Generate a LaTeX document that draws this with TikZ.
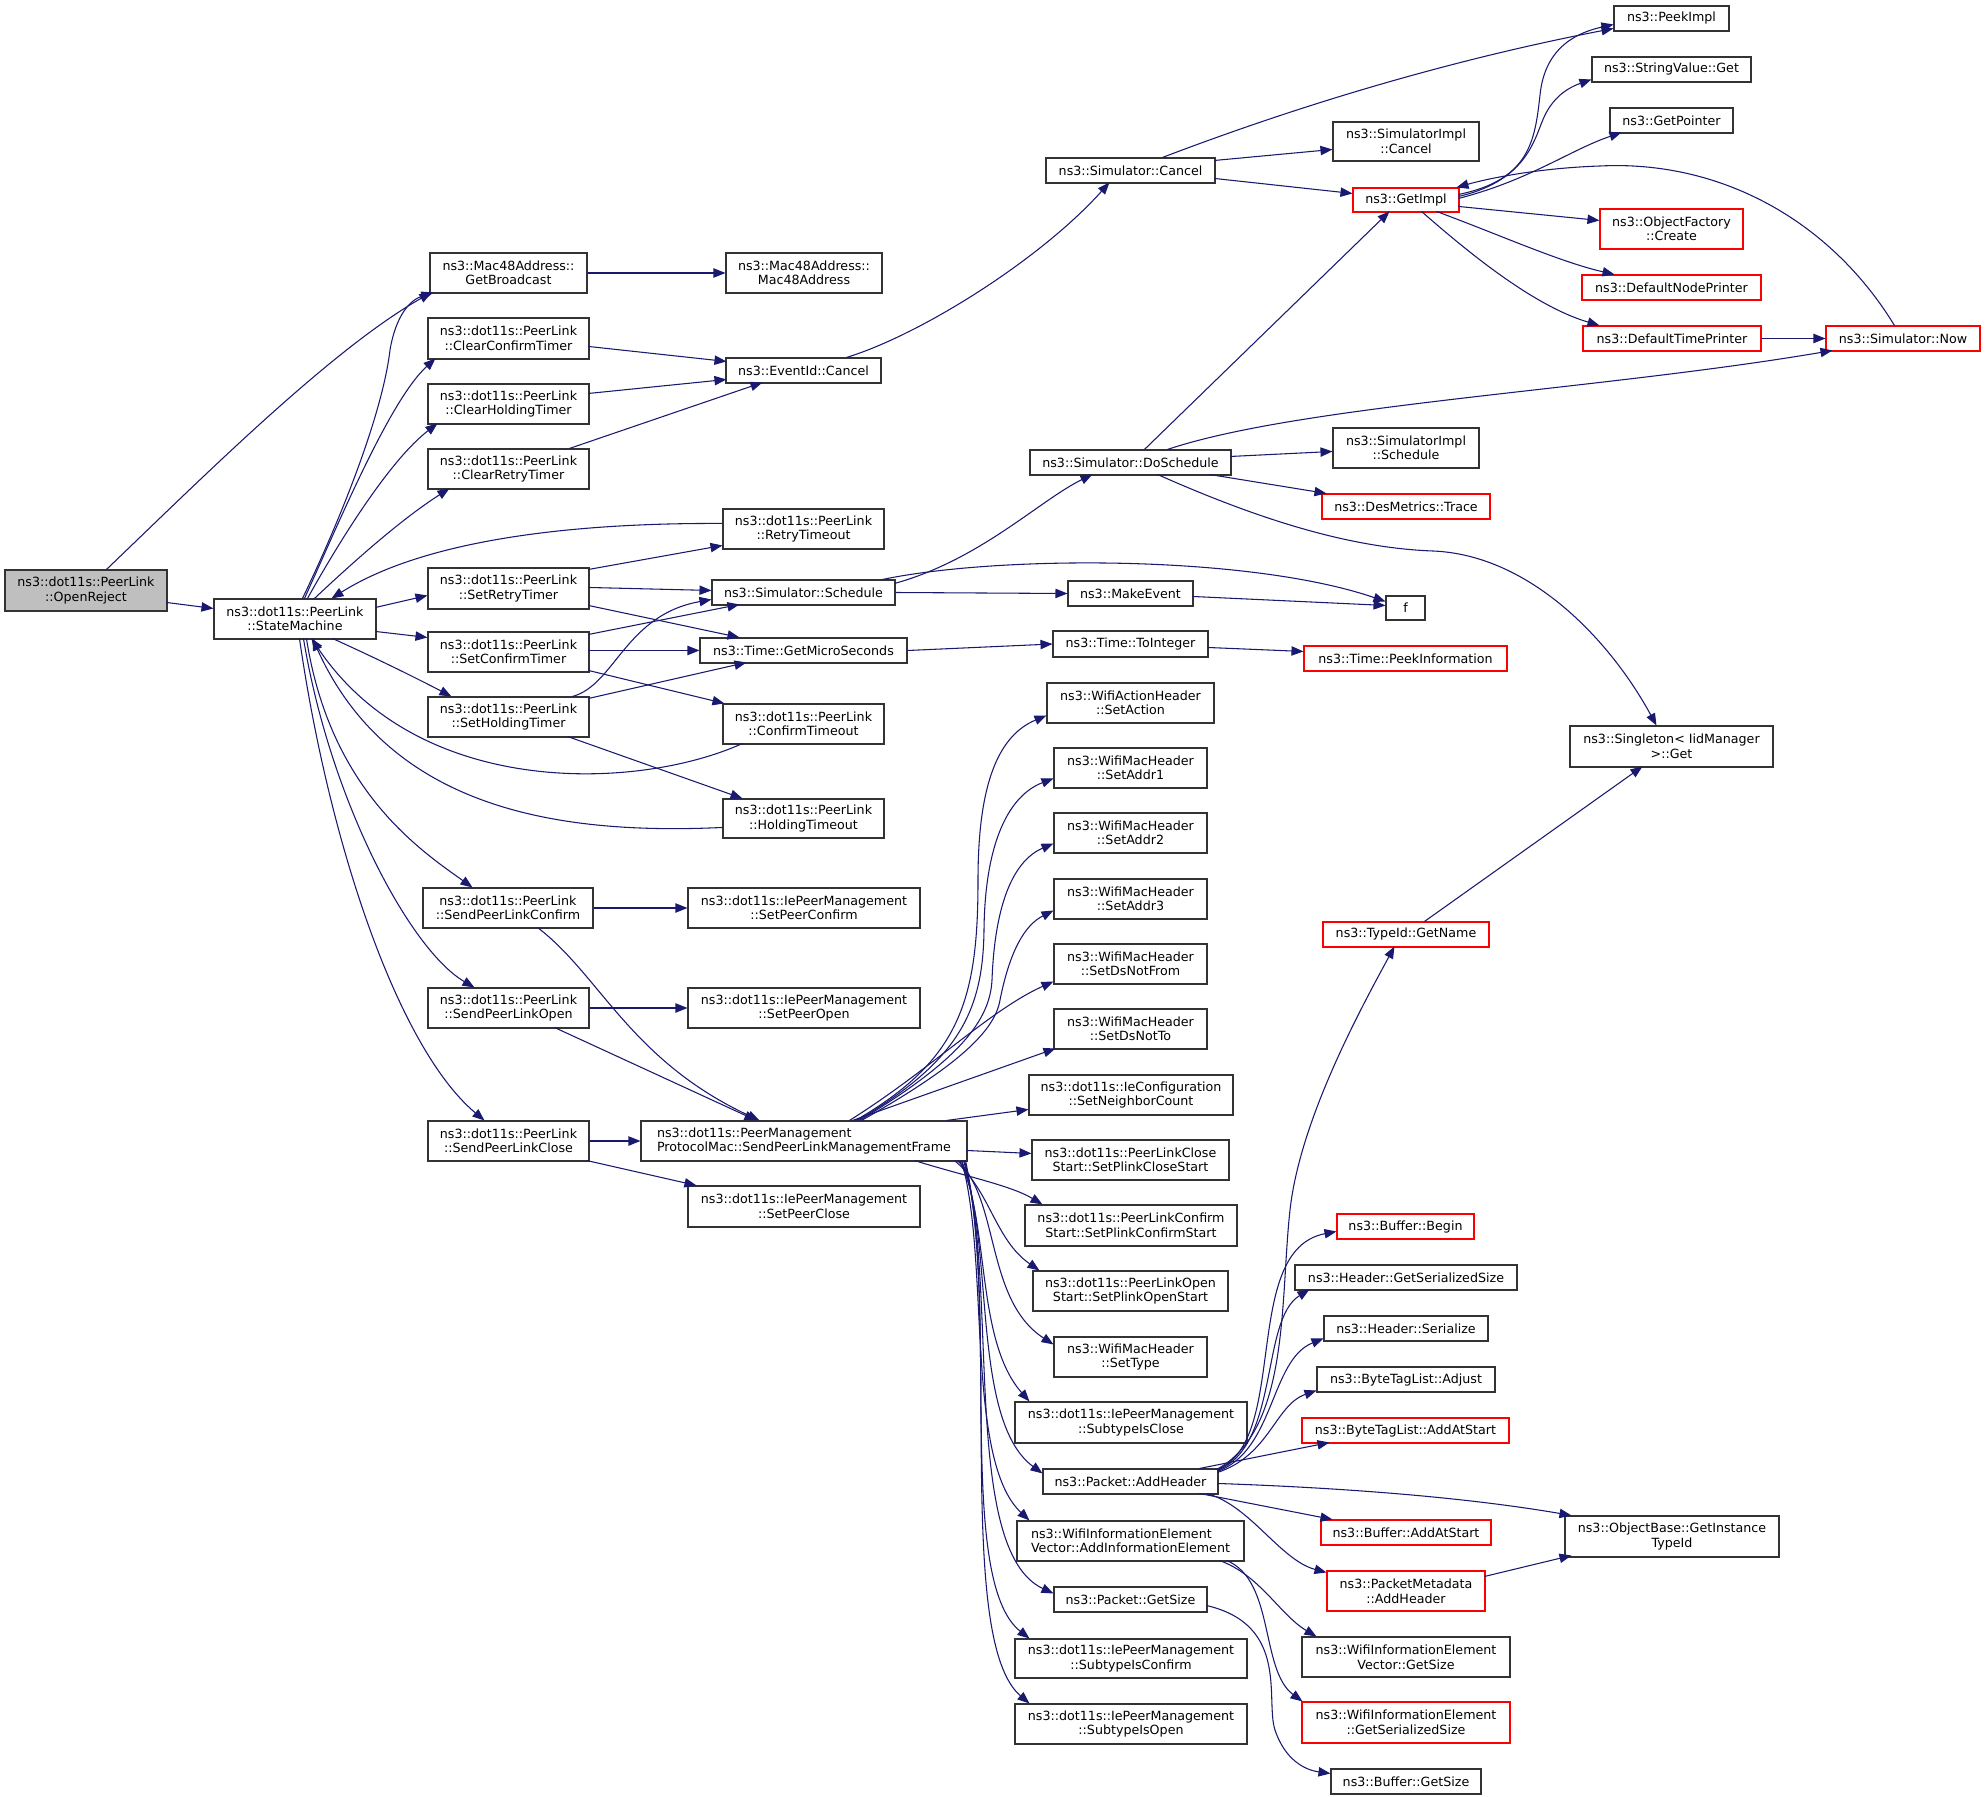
\documentclass[tikz,border=0pt]{standalone}
\usepackage{fontspec}
\setmainfont{DejaVu Sans}
\usetikzlibrary{arrows.meta,calc}
\definecolor{edgec}{HTML}{191970}
\definecolor{bord}{HTML}{333333}
\definecolor{rootfill}{HTML}{BFBFBF}
\newcommand{\bx}[7]{\node[box,#2,minimum width={(#5-#3)*0.75pt},minimum height={(#6-#4)*0.75pt}] (#1) at ({(#3+#5)/2},{(#4+#6)/2}) {#7};}
\begin{document}
\begin{tikzpicture}[x=0.75pt,y=-0.75pt,
  box/.style={draw=bord,line width=0.8pt,fill=white,inner sep=1pt,align=center,font=\fontsize{9.5pt}{10.9pt}\selectfont},
  redbox/.style={draw=red},
  rootbox/.style={fill=rootfill},
  leftbox/.style={align=left},
  conn/.style={draw=edgec,line width=0.8pt,-{Triangle[length=9pt,width=7pt]}}]
\fill[white] (0,0) rectangle (1985,1797);
\useasboundingbox (0,0) rectangle (1985,1797);
% column 1-2
\bx{or}{rootbox}{5}{570}{167}{611}{ns3::dot11s::PeerLink\\::OpenReject}
\bx{sm}{}{214}{599}{376}{639}{ns3::dot11s::PeerLink\\::StateMachine}
\bx{gb}{}{430}{253}{587}{293}{ns3::Mac48Address::\\GetBroadcast}
\bx{cct}{}{428}{318}{589}{359}{ns3::dot11s::PeerLink\\::ClearConfirmTimer}
\bx{cht}{}{428}{384}{589}{424}{ns3::dot11s::PeerLink\\::ClearHoldingTimer}
\bx{crt}{}{428}{449}{589}{489}{ns3::dot11s::PeerLink\\::ClearRetryTimer}
\bx{srt}{}{428}{568}{589}{609}{ns3::dot11s::PeerLink\\::SetRetryTimer}
\bx{sct}{}{428}{632}{589}{672}{ns3::dot11s::PeerLink\\::SetConfirmTimer}
\bx{sht}{}{428}{697}{589}{737}{ns3::dot11s::PeerLink\\::SetHoldingTimer}
\bx{splc}{}{423}{888}{593}{928}{ns3::dot11s::PeerLink\\::SendPeerLinkConfirm}
\bx{splo}{}{428}{988}{589}{1028}{ns3::dot11s::PeerLink\\::SendPeerLinkOpen}
\bx{splcl}{}{428}{1121}{589}{1161}{ns3::dot11s::PeerLink\\::SendPeerLinkClose}
% column 3
\bx{m48}{}{726}{253}{882}{293}{ns3::Mac48Address::\\Mac48Address}
\bx{eic}{}{726}{358}{881}{383}{ns3::EventId::Cancel}
\bx{rto}{}{723}{509}{884}{549}{ns3::dot11s::PeerLink\\::RetryTimeout}
\bx{ssch}{}{712}{580}{895}{605}{ns3::Simulator::Schedule}
\bx{gms}{}{700}{638}{907}{663}{ns3::Time::GetMicroSeconds}
\bx{cto}{}{723}{704}{884}{744}{ns3::dot11s::PeerLink\\::ConfirmTimeout}
\bx{hto}{}{723}{799}{884}{838}{ns3::dot11s::PeerLink\\::HoldingTimeout}
\bx{spc}{}{688}{888}{920}{928}{ns3::dot11s::IePeerManagement\\::SetPeerConfirm}
\bx{spo}{}{688}{988}{920}{1028}{ns3::dot11s::IePeerManagement\\::SetPeerOpen}
\bx{pmf}{leftbox}{641}{1121}{967}{1161}{ns3::dot11s::PeerManagement\\ProtocolMac::SendPeerLinkManagementFrame}
\bx{spcl}{}{688}{1186}{920}{1227}{ns3::dot11s::IePeerManagement\\::SetPeerClose}
% column 4
\bx{scan}{}{1046}{158}{1215}{183}{ns3::Simulator::Cancel}
\bx{dos}{}{1030}{450}{1231}{475}{ns3::Simulator::DoSchedule}
\bx{mke}{}{1068}{581}{1193}{606}{ns3::MakeEvent}
\bx{toi}{}{1053}{631}{1208}{657}{ns3::Time::ToInteger}
\bx{sa}{}{1047}{683}{1214}{723}{ns3::WifiActionHeader\\::SetAction}
\bx{a1}{}{1054}{748}{1207}{788}{ns3::WifiMacHeader\\::SetAddr1}
\bx{a2}{}{1054}{813}{1207}{853}{ns3::WifiMacHeader\\::SetAddr2}
\bx{a3}{}{1054}{879}{1207}{919}{ns3::WifiMacHeader\\::SetAddr3}
\bx{dnf}{}{1054}{944}{1207}{984}{ns3::WifiMacHeader\\::SetDsNotFrom}
\bx{dnt}{}{1054}{1009}{1207}{1049}{ns3::WifiMacHeader\\::SetDsNotTo}
\bx{snc}{}{1029}{1075}{1233}{1115}{ns3::dot11s::IeConfiguration\\::SetNeighborCount}
\bx{pcs}{}{1032}{1140}{1229}{1180}{ns3::dot11s::PeerLinkClose\\Start::SetPlinkCloseStart}
\bx{pcfs}{}{1025}{1205}{1237}{1246}{ns3::dot11s::PeerLinkConfirm\\Start::SetPlinkConfirmStart}
\bx{pos}{}{1033}{1271}{1228}{1311}{ns3::dot11s::PeerLinkOpen\\Start::SetPlinkOpenStart}
\bx{st}{}{1054}{1337}{1207}{1377}{ns3::WifiMacHeader\\::SetType}
\bx{sicl}{}{1015}{1402}{1247}{1443}{ns3::dot11s::IePeerManagement\\::SubtypeIsClose}
\bx{pah}{}{1043}{1469}{1218}{1494}{ns3::Packet::AddHeader}
\bx{aie}{leftbox}{1017}{1521}{1244}{1561}{ns3::WifiInformationElement\\Vector::AddInformationElement}
\bx{pgs}{}{1054}{1587}{1207}{1612}{ns3::Packet::GetSize}
\bx{sicf}{}{1015}{1639}{1247}{1678}{ns3::dot11s::IePeerManagement\\::SubtypeIsConfirm}
\bx{sio}{}{1015}{1704}{1247}{1744}{ns3::dot11s::IePeerManagement\\::SubtypeIsOpen}
% column 5
\bx{sic}{}{1333}{122}{1479}{161}{ns3::SimulatorImpl\\::Cancel}
\bx{gi}{redbox}{1353}{188}{1459}{212}{ns3::GetImpl}
\bx{sis}{}{1333}{428}{1479}{468}{ns3::SimulatorImpl\\::Schedule}
\bx{dmt}{redbox}{1322}{494}{1490}{519}{ns3::DesMetrics::Trace}
\bx{f}{}{1386}{596}{1425}{620}{f}
\bx{tpi}{redbox}{1304}{646}{1507}{671}{ns3::Time::PeekInformation}
\bx{tgn}{redbox}{1323}{922}{1489}{947}{ns3::TypeId::GetName}
\bx{bb}{redbox}{1337}{1214}{1474}{1239}{ns3::Buffer::Begin}
\bx{hgs}{}{1295}{1265}{1517}{1290}{ns3::Header::GetSerializedSize}
\bx{hs}{}{1324}{1316}{1488}{1341}{ns3::Header::Serialize}
\bx{bta}{}{1317}{1367}{1495}{1392}{ns3::ByteTagList::Adjust}
\bx{btas}{redbox}{1302}{1418}{1509}{1443}{ns3::ByteTagList::AddAtStart}
\bx{baas}{redbox}{1321}{1520}{1491}{1545}{ns3::Buffer::AddAtStart}
\bx{pmah}{redbox}{1327}{1571}{1485}{1611}{ns3::PacketMetadata\\::AddHeader}
\bx{wgs}{}{1302}{1637}{1510}{1677}{ns3::WifiInformationElement\\Vector::GetSize}
\bx{wgss}{redbox}{1302}{1702}{1510}{1743}{ns3::WifiInformationElement\\::GetSerializedSize}
\bx{bgs}{}{1331}{1769}{1481}{1794}{ns3::Buffer::GetSize}
% column 6-7
\bx{pki}{}{1614}{6}{1729}{31}{ns3::PeekImpl}
\bx{svg}{}{1592}{57}{1751}{82}{ns3::StringValue::Get}
\bx{gp}{}{1610}{108}{1733}{133}{ns3::GetPointer}
\bx{ofc}{redbox}{1600}{209}{1743}{249}{ns3::ObjectFactory\\::Create}
\bx{dnp}{redbox}{1582}{275}{1761}{300}{ns3::DefaultNodePrinter}
\bx{dtp}{redbox}{1583}{326}{1761}{351}{ns3::DefaultTimePrinter}
\bx{now}{redbox}{1826}{326}{1980}{351}{ns3::Simulator::Now}
\bx{sgt}{}{1570}{726}{1773}{767}{ns3::Singleton< IidManager\\>::Get}
\bx{obt}{}{1565}{1516}{1779}{1557}{ns3::ObjectBase::GetInstance\\TypeId}

% ---- edges ----
\draw[conn] ($(or.north west)+(102,0)$) .. controls (200,480) and (330,350) .. ($(gb.north west)+(2,40)$);
\draw[conn] ($(or.north west)+(162,33)$) -- ($(sm.north west)+(0,10)$);
\draw[conn] ($(sm.north west)+(89,0)$) .. controls (345,510) and (383,410) .. (390,350) .. controls (396,315) and (410,300) .. ($(gb.north west)+(4,40)$);
\draw[conn] ($(sm.north west)+(91,0)$) .. controls (340,520) and (390,400) .. ($(cct.north west)+(8,41)$);
\draw[conn] ($(sm.north west)+(94,0)$) .. controls (340,540) and (390,460) .. ($(cht.north west)+(10,40)$);
\draw[conn] ($(sm.north west)+(101,0)$) .. controls (350,565) and (400,520) .. ($(crt.north west)+(22,40)$);
\draw[conn] ($(rto.north west)+(0,15)$) .. controls (620,523) and (440,530) .. ($(sm.north west)+(118,0)$);
\draw[conn] ($(sm.north west)+(162,9)$) -- ($(srt.north west)+(0,28)$);
\draw[conn] ($(sm.north west)+(162,33)$) -- ($(sct.north west)+(0,6)$);
\draw[conn] ($(sm.north west)+(119,40)$) .. controls (380,660) and (420,680) .. ($(sht.north west)+(24,0)$);
\draw[conn] ($(cto.north west)+(20,40)$) .. controls (640,790) and (420,800) .. ($(sm.north west)+(98,40)$);
\draw[conn] ($(hto.north west)+(0,29)$) .. controls (560,835) and (390,810) .. ($(sm.north west)+(99,40)$);
\draw[conn] ($(sm.north west)+(93,40)$) .. controls (330,790) and (420,850) .. ($(splc.north west)+(50,0)$);
\draw[conn] ($(sm.north west)+(90,40)$) .. controls (330,800) and (410,950) .. ($(splo.north west)+(47,0)$);
\draw[conn] ($(sm.north west)+(86,40)$) .. controls (330,850) and (400,1050) .. ($(splcl.north west)+(57,0)$);
\draw[conn] (gb.east) -- (m48.west);
\draw[conn] ($(cct.north west)+(161,29)$) -- ($(eic.north west)+(1,4)$);
\draw[conn] ($(cht.north west)+(161,10)$) -- ($(eic.north west)+(1,22)$);
\draw[conn] ($(crt.north west)+(142,0)$) -- ($(eic.north west)+(37,25)$);
\draw[conn] ($(srt.north west)+(161,2)$) -- ($(rto.north west)+(0,37)$);
\draw[conn] ($(srt.north west)+(161,20)$) -- ($(ssch.north west)+(0,11)$);
\draw[conn] ($(srt.north west)+(161,38)$) -- ($(gms.north west)+(40,0)$);
\draw[conn] ($(sct.north west)+(161,3)$) -- ($(ssch.north west)+(28,25)$);
\draw[conn] ($(sct.north west)+(161,19)$) -- ($(gms.north west)+(0,13)$);
\draw[conn] ($(sct.north west)+(161,39)$) -- ($(cto.north west)+(2,0)$);
\draw[conn] ($(sht.north west)+(145,0)$) .. controls (615,685) and (625,615) .. ($(ssch.north west)+(0,20)$);
\draw[conn] ($(sht.north west)+(161,2)$) -- ($(gms.north west)+(47,25)$);
\draw[conn] ($(sht.north west)+(140,40)$) -- ($(hto.north west)+(20,0)$);
\draw[conn] (splc.east) -- (spc.west);
\draw[conn] ($(splc.north west)+(115,40)$) .. controls (600,975) and (630,1060) .. ($(pmf.north west)+(119,0)$);
\draw[conn] (splo.east) -- (spo.west);
\draw[conn] ($(splo.north west)+(127,40)$) -- ($(pmf.north west)+(116,0)$);
\draw[conn] (splcl.east) -- (pmf.west);
\draw[conn] ($(splcl.north west)+(159,40)$) -- ($(spcl.north west)+(9,0)$);
% column 3 -> 4
\draw[conn] ($(eic.north west)+(121,0)$) .. controls (920,335) and (1040,260) .. ($(scan.north west)+(64,25)$);
\draw[conn] ($(ssch.north west)+(183,4)$) .. controls (980,560) and (1040,500) .. ($(dos.north west)+(63,25)$);
\draw[conn] ($(ssch.north west)+(171,0)$) .. controls (1000,555) and (1250,555) .. ($(f.north west)+(0,6)$);
\draw[conn] (ssch.east) -- (mke.west);
\draw[conn] ($(mke.north west)+(125,16)$) -- ($(f.north west)+(0,10)$);
\draw[conn] (gms.east) -- (toi.west);
\draw[conn] ($(toi.north west)+(155,17)$) -- ($(tpi.north west)+(0,6)$);
% simulator cancel / doschedule
\draw[conn] ($(scan.north west)+(117,0)$) .. controls (1300,105) and (1450,60) .. ($(pki.north west)+(0,23)$);
\draw[conn] ($(scan.north west)+(169,3)$) -- ($(sic.north west)+(0,28)$);
\draw[conn] ($(scan.north west)+(169,21)$) -- ($(gi.north west)+(0,6)$);
\draw[conn] ($(dos.north west)+(115,0)$) -- ($(gi.north west)+(37,24)$);
\draw[conn] ($(dos.north west)+(138,0)$) .. controls (1300,405) and (1600,390) .. ($(now.north west)+(7,25)$);
\draw[conn] ($(dos.north west)+(201,7)$) -- ($(sis.north west)+(0,24)$);
\draw[conn] ($(dos.north west)+(180,25)$) -- ($(dmt.north west)+(5,0)$);
\draw[conn] ($(dos.north west)+(128,25)$) .. controls (1260,520) and (1350,548) .. (1433,551) .. controls (1530,555) and (1610,640) .. ($(sgt.north west)+(87,0)$);
% GetImpl
\draw[conn] ($(gi.north west)+(106,7)$) .. controls (1530,180) and (1535,140) .. (1540,95) .. controls (1545,45) and (1580,32) .. ($(pki.north west)+(0,19)$);
\draw[conn] ($(gi.north west)+(106,9)$) .. controls (1530,180) and (1535,135) .. (1545,115) .. controls (1555,95) and (1570,87) .. ($(svg.north west)+(0,23)$);
\draw[conn] ($(gi.north west)+(106,11)$) .. controls (1530,180) and (1570,150) .. ($(gp.north west)+(12,25)$);
\draw[conn] ($(now.north west)+(69,0)$) .. controls (1830,220) and (1720,160) .. (1600,166) .. controls (1540,168) and (1490,178) .. ($(gi.north west)+(104,0)$);
\draw[conn] ($(gi.north west)+(106,19)$) -- ($(ofc.north west)+(0,12)$);
\draw[conn] ($(gi.north west)+(84,24)$) .. controls (1500,235) and (1560,262) .. ($(dnp.north west)+(33,0)$);
\draw[conn] ($(gi.north west)+(69,24)$) .. controls (1460,245) and (1530,305) .. ($(dtp.north west)+(17,0)$);
\draw[conn] (dtp.east) -- (now.west);
\draw[conn] ($(tgn.north west)+(102,0)$) -- ($(sgt.north west)+(73,41)$);
\draw[conn] ($(pmah.north west)+(158,6)$) -- ($(obt.north west)+(7,40)$);
\draw[conn] ($(pah.north west)+(175,15)$) .. controls (1350,1488) and (1470,1498) .. ($(obt.north west)+(7,0)$);
% SendPeerLinkManagementFrame upward
\draw[conn] ($(pmf.north west)+(215,0)$) .. controls (960,1060) and (978,1000) .. (978,880) .. controls (978,780) and (1000,735) .. ($(sa.north west)+(0,33)$);
\draw[conn] ($(pmf.north west)+(217,0)$) .. controls (960,1060) and (983,1010) .. (984,930) .. controls (985,840) and (1010,795) .. ($(a1.north west)+(0,31)$);
\draw[conn] ($(pmf.north west)+(219,0)$) .. controls (960,1060) and (990,1020) .. (992,980) .. controls (995,900) and (1015,860) .. ($(a2.north west)+(0,31)$);
\draw[conn] ($(pmf.north west)+(221,0)$) .. controls (960,1065) and (995,1030) .. (1000,1000) .. controls (1010,950) and (1025,925) .. ($(a3.north west)+(0,32)$);
\draw[conn] ($(pmf.north west)+(209,0)$) .. controls (930,1070) and (990,1010) .. ($(dnf.north west)+(0,38)$);
\draw[conn] ($(pmf.north west)+(212,0)$) -- ($(dnt.north west)+(2,40)$);
\draw[conn] ($(pmf.north west)+(306,0)$) -- ($(snc.north west)+(0,35)$);
\draw[conn] ($(pmf.north west)+(326,30)$) -- ($(pcs.north west)+(0,14)$);
\draw[conn] ($(pmf.north west)+(274,40)$) .. controls (960,1175) and (1010,1185) .. ($(pcfs.north west)+(18,0)$);
% downward
\draw[conn] ($(pmf.north west)+(314,40)$) .. controls (990,1190) and (995,1240) .. ($(pos.north west)+(7,0)$);
\draw[conn] ($(pmf.north west)+(317,40)$) .. controls (1000,1200) and (985,1300) .. ($(st.north west)+(0,8)$);
\draw[conn] ($(pmf.north west)+(319,40)$) .. controls (990,1220) and (975,1340) .. ($(sicl.north west)+(15,0)$);
\draw[conn] ($(pmf.north west)+(321,40)$) .. controls (995,1240) and (970,1420) .. ($(pah.north west)+(0,5)$);
\draw[conn] ($(pmf.north west)+(321,40)$) .. controls (990,1260) and (965,1460) .. ($(aie.north west)+(13,0)$);
\draw[conn] ($(pmf.north west)+(323,40)$) .. controls (1000,1280) and (960,1550) .. ($(pgs.north west)+(0,7)$);
\draw[conn] ($(pmf.north west)+(324,40)$) .. controls (1000,1300) and (955,1580) .. ($(sicf.north west)+(15,0)$);
\draw[conn] ($(pmf.north west)+(325,40)$) .. controls (1000,1320) and (955,1640) .. ($(sio.north west)+(15,0)$);
% Packet::AddHeader
\draw[conn] ($(pah.north west)+(175,1)$) .. controls (1290,1440) and (1240,1250) .. ($(bb.north west)+(0,18)$);
\draw[conn] ($(pah.north west)+(175,2)$) .. controls (1280,1445) and (1260,1320) .. ($(hgs.north west)+(15,25)$);
\draw[conn] ($(pah.north west)+(175,3)$) .. controls (1275,1450) and (1270,1360) .. ($(hs.north west)+(0,23)$);
\draw[conn] ($(pah.north west)+(175,4)$) .. controls (1270,1455) and (1275,1405) .. ($(bta.north west)+(0,24)$);
\draw[conn] ($(pah.north west)+(157,0)$) -- ($(btas.north west)+(28,25)$);
\draw[conn] ($(pah.north west)+(157,25)$) -- ($(baas.north west)+(12,0)$);
\draw[conn] ($(pah.north west)+(164,25)$) .. controls (1250,1505) and (1280,1560) .. ($(pmah.north west)+(0,2)$);
\draw[conn] ($(pah.north west)+(174,1)$) .. controls (1290,1430) and (1280,1300) .. (1290,1210) .. controls (1300,1120) and (1360,1010) .. ($(tgn.north west)+(72,25)$);
% AddInformationElement, GetSize
\draw[conn] ($(aie.north west)+(203,40)$) .. controls (1260,1575) and (1280,1615) .. ($(wgs.north west)+(15,0)$);
\draw[conn] ($(aie.north west)+(210,40)$) .. controls (1275,1580) and (1260,1670) .. ($(wgss.north west)+(1,0)$);
\draw[conn] ($(pgs.north west)+(153,19)$) .. controls (1290,1625) and (1265,1700) .. (1275,1730) .. controls (1285,1760) and (1305,1770) .. ($(bgs.north west)+(0,5)$);
\end{tikzpicture}
\end{document}
